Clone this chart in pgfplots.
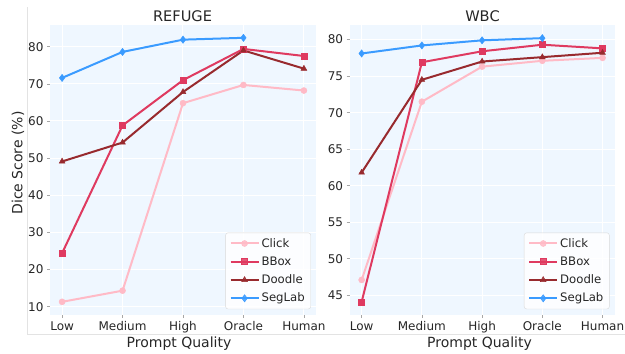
\documentclass[border=0pt]{standalone}
\usepackage{pgfplots}
\pgfplotsset{compat=1.18}
\usepackage{fontspec}
\setmainfont{DejaVu Sans}
\definecolor{bgc}{HTML}{EFF7FF}
\definecolor{clickc}{HTML}{FFBAC6}
\definecolor{bboxc}{HTML}{DF3A60}
\definecolor{doodlec}{HTML}{982A2E}
\definecolor{segc}{HTML}{3A9BFF}
\definecolor{txt}{HTML}{262626}
\pgfplotsset{
  mystyle/.style={
    scale only axis,
    axis background/.style={fill=bgc},
    axis line style={draw=none},
    grid=major,
    major grid style={white, line width=1pt},
    tick align=outside,
    major tick length=3pt,
    tick style={gray!70, line width=0.6pt},
    xtick pos=bottom, ytick pos=left,
    xmin=-0.2, xmax=4.2,
    xtick={0,1,2,3,4},
    xticklabels={Low,Medium,High,Oracle,Human},
    ticklabel style={font=\fontsize{12}{14}\selectfont, text=txt},
    /pgf/number format/assume math mode=true,
    every axis plot/.append style={line width=2pt},
    legend cell align=left,
    legend image code/.code={\draw[mark repeat=2,mark phase=2] plot coordinates {(0pt,0pt) (14pt,0pt) (28pt,0pt)};},
    legend style={font=\fontsize{11.7}{13.5}\selectfont, text=txt, draw=gray!30, fill=white, fill opacity=0.85, text opacity=1, rounded corners=2.5pt, row sep=4pt, inner xsep=4pt, inner ysep=3.5pt, anchor=south east, at={(axis description cs:0.981,0.02)}},
  },
  clickst/.style={color=clickc, mark=*, mark size=3pt, mark options={solid, fill=clickc, line width=0.5pt}},
  bboxst/.style={color=bboxc, mark=square*, mark size=3pt, mark options={solid, fill=bboxc, line width=0.5pt}},
  doodlest/.style={color=doodlec, mark=triangle*, mark size=3.3pt, mark options={solid, fill=doodlec, line width=0.5pt}},
  segst/.style={color=segc, mark=diamond*, mark size=3.6pt, mark options={solid, fill=segc, line width=0.5pt}},
}
\begin{document}
\begin{tikzpicture}[x=1pt,y=1pt]
\useasboundingbox (0pt,0pt) rectangle (625pt,354pt);
% outer frame lines
\draw[gray!22, line width=0.8pt] (27pt,347pt) -- (27pt,20pt) -- (625pt,20pt);

\begin{axis}[mystyle,
  at={(50pt,39pt)}, anchor=south west,
  width=266pt, height=290pt,
  ymin=7.75, ymax=85.85,
  ytick={10,20,30,40,50,60,70,80},
]
\addplot[clickst] coordinates {(0,11.3) (1,14.3) (2,64.8) (3,69.7) (4,68.2)};
\addlegendentry{Click}
\addplot[bboxst] coordinates {(0,24.4) (1,58.8) (2,71.0) (3,79.4) (4,77.5)};
\addlegendentry{BBox}
\addplot[doodlest] coordinates {(0,49.1) (1,54.2) (2,67.8) (3,79.0) (4,74.1)};
\addlegendentry{Doodle}
\addplot[segst] coordinates {(0,71.6) (1,78.6) (2,81.9) (3,82.4)};
\addlegendentry{SegLab}
\end{axis}

\begin{axis}[mystyle,
  at={(349.6pt,39pt)}, anchor=south west,
  width=265pt, height=290pt,
  ymin=42.3, ymax=82.0,
  ytick={45,50,55,60,65,70,75,80},
]
\addplot[clickst] coordinates {(0,47.1) (1,71.5) (2,76.3) (3,77.1) (4,77.5)};
\addlegendentry{Click}
\addplot[bboxst] coordinates {(0,44.1) (1,76.9) (2,78.4) (3,79.3) (4,78.8)};
\addlegendentry{BBox}
\addplot[doodlest] coordinates {(0,61.8) (1,74.5) (2,77.0) (3,77.6) (4,78.2)};
\addlegendentry{Doodle}
\addplot[segst] coordinates {(0,78.1) (1,79.2) (2,79.9) (3,80.2)};
\addlegendentry{SegLab}
\end{axis}

% titles and labels
\node[anchor=base, text=txt, font=\fontsize{14.6}{17}\selectfont] at (182.5pt,332.5pt) {REFUGE};
\node[anchor=base, text=txt, font=\fontsize{14.6}{17}\selectfont] at (482.5pt,332.5pt) {WBC};
\node[anchor=base, text=txt, font=\fontsize{14}{16}\selectfont] at (179pt,6pt) {Prompt Quality};
\node[anchor=base, text=txt, font=\fontsize{14}{16}\selectfont] at (479.5pt,6pt) {Prompt Quality};
\node[anchor=base, rotate=90, text=txt, font=\fontsize{14}{16}\selectfont] at (22.5pt,191pt) {Dice Score (\%)};
\end{tikzpicture}
\end{document}
